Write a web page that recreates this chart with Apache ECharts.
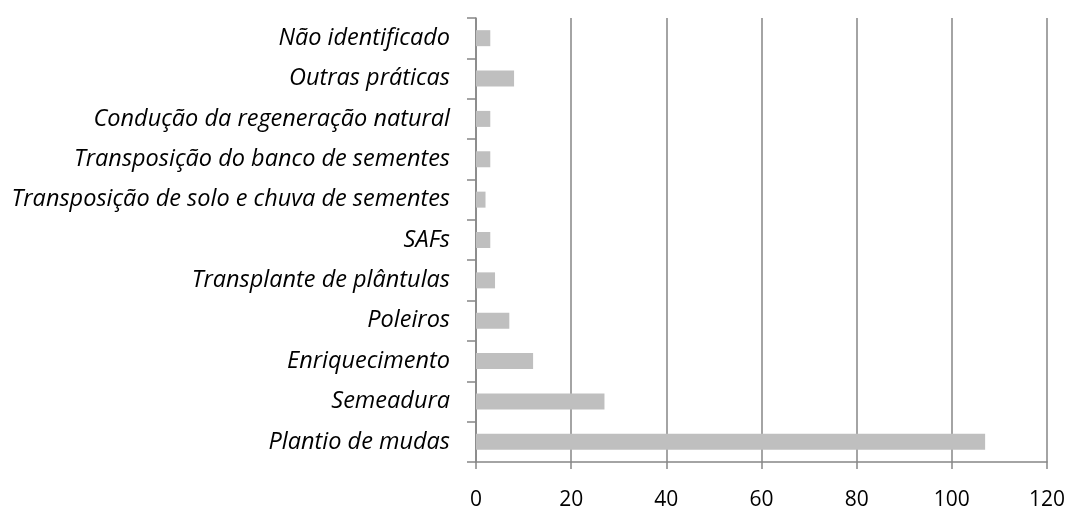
<!DOCTYPE html>
<html>
<head>
<meta charset="utf-8">
<script src="https://cdn.jsdelivr.net/npm/echarts@6/dist/echarts.min.js"></script>
<style>
  html, body { margin: 0; padding: 0; background: #fff; }
  #chart { width: 1068px; height: 511px; }
</style>
</head>
<body>
<div id="chart"></div>
<script>
// categorias, de baixo para cima
var categories = [
  "Plantio de mudas",
  "Semeadura",
  "Enriquecimento",
  "Poleiros",
  "Transplante de plântulas",
  "SAFs",
  "Transposição de solo e chuva de sementes",
  "Transposição do banco de sementes",
  "Condução da regeneração natural",
  "Outras práticas",
  "Não identificado"
];
var values = [107, 27, 12, 7, 4, 3, 2, 3, 3, 8, 3];
var xTicks = [0, 20, 40, 60, 80, 100, 120];

var axisGray = "#868686";
var myChart = echarts.init(document.getElementById("chart"));

var option = {
  animation: false,
  grid: { left: 476, right: 21, top: 18, bottom: 49, containLabel: false },
  xAxis: {
    type: "value",
    min: xTicks[0],
    max: xTicks[xTicks.length - 1],
    interval: xTicks[1] - xTicks[0],
    axisLine: { show: true, lineStyle: { color: axisGray, width: 1.5 } },
    axisTick: { show: true, length: 7, lineStyle: { color: axisGray, width: 1.5 } },
    splitLine: { show: true, lineStyle: { color: axisGray, width: 1.5 } },
    axisLabel: {
      margin: 28,
      color: "#000",
      fontSize: 21,
      fontFamily: "Open Sans"
    }
  },
  yAxis: {
    type: "category",
    data: categories,
    axisLine: { show: true, lineStyle: { color: axisGray, width: 1.5 } },
    axisTick: { show: true, length: 9, lineStyle: { color: axisGray, width: 1.5 } },
    axisLabel: {
      margin: 26,
      color: "#000",
      fontSize: 23.5,
      fontStyle: "italic",
      fontFamily: "Open Sans"
    }
  },
  series: [
    {
      type: "bar",
      data: values,
      barWidth: 16,
      itemStyle: { color: "#BFBFBF" }
    }
  ]
};
myChart.setOption(option);
</script>
</body>
</html>
